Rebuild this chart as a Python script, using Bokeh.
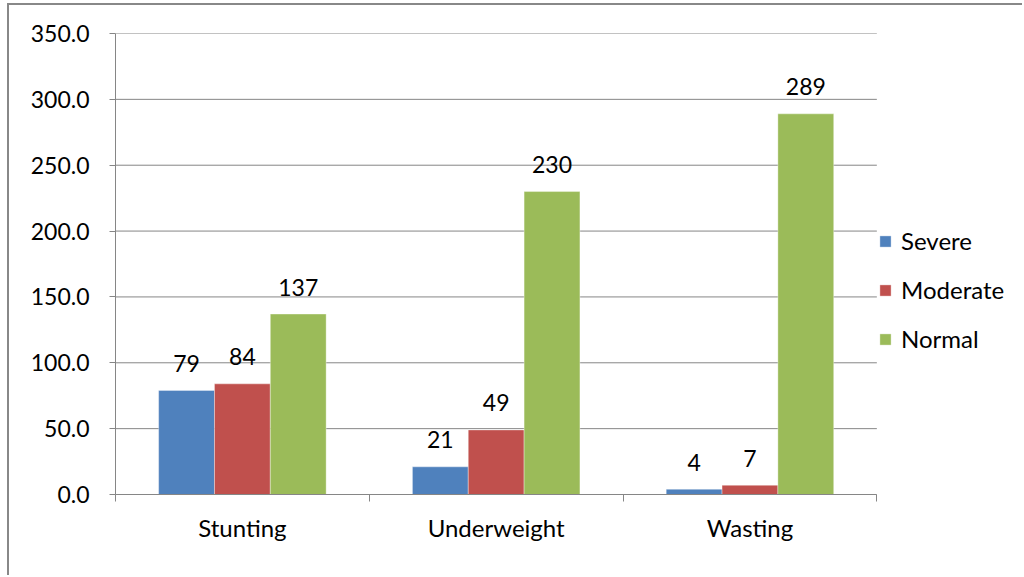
import numpy as np
from bokeh.plotting import figure
from bokeh.models import ColumnDataSource, FixedTicker, Range1d, Legend, LegendItem
from bokeh.core.properties import value
from bokeh.embed import file_html
from bokeh.resources import INLINE

categories = ["Stunting", "Underweight", "Wasting"]
series = ["Severe", "Moderate", "Normal"]
severe = [79, 21, 4]
moderate = [84, 49, 7]
normal = [137, 230, 289]
colors = ["#4F81BD", "#C0504D", "#9BBB59"]
y_ticks = [0, 50, 100, 150, 200, 250, 300, 350]

FONT = "Lato"
FS = "23px"
FS2 = "24px"
GRID = "#868686"

n_cat = len(categories)
# frame spans 903px, the category axis itself covers 758px of it (legend sits to the right)
x_end = n_cat * 903 / 758

p = figure(width=1015, height=572, output_backend="svg", toolbar_location=None,
           x_range=Range1d(0, x_end), y_range=Range1d(0, 350),
           min_border_left=106, min_border_top=28, min_border_right=2, min_border_bottom=83,
           styles={"border-left": "2px solid #888888", "border-top": "2px solid #888888",
                   "margin-left": "7px", "margin-top": "3px"})
p.outline_line_color = None
p.background_fill_color = "white"
p.border_fill_color = "white"

# horizontal gridlines limited to the category axis extent
p.segment(x0=[0] * len(y_ticks), x1=[n_cat] * len(y_ticks), y0=y_ticks, y1=y_ticks,
          line_color=GRID, line_width=1)

centers = np.arange(n_cat) + 0.5
offsets = [-0.22, 0.0, 0.22]
width = 0.22
renderers = []
for vals, off, col, name in zip([severe, moderate, normal], offsets, colors, series):
    src = ColumnDataSource(dict(x=centers + off, top=vals, lab=[str(v) for v in vals]))
    r = p.vbar(x="x", top="top", width=width, bottom=0, source=src,
               fill_color=col, line_color="white", line_alpha=0.35, line_width=1)
    renderers.append((name, r))
    p.text(x="x", y="top", text="lab", source=src, y_offset=-27,
           text_align="center", text_baseline="middle",
           text_font=value(FONT), text_font_size=FS, text_color="black")

# y axis
p.yaxis.ticker = FixedTicker(ticks=y_ticks)
p.yaxis.major_label_overrides = {t: f"{t:.1f}" for t in y_ticks}
p.yaxis.axis_line_color = GRID
p.yaxis.major_tick_line_color = GRID
p.yaxis.major_tick_out = 6
p.yaxis.major_tick_in = 0
p.yaxis.minor_tick_line_color = None
p.yaxis.major_label_text_font = FONT
p.yaxis.major_label_text_font_size = FS
p.yaxis.major_label_text_color = "black"
p.yaxis.major_label_standoff = 20

# x axis: labels at centers, ticks at category boundaries
p.xaxis.bounds = (0, n_cat)
p.xaxis.ticker = FixedTicker(ticks=list(centers), minor_ticks=list(np.arange(n_cat + 1)))
p.xaxis.major_label_overrides = {float(c): n for c, n in zip(centers, categories)}
p.xaxis.major_tick_line_color = None
p.xaxis.major_tick_out = 0
p.xaxis.minor_tick_line_color = GRID
p.xaxis.minor_tick_out = 7
p.xaxis.minor_tick_in = 0
p.xaxis.axis_line_color = GRID
p.xaxis.major_label_text_font = FONT
p.xaxis.major_label_text_font_size = FS2
p.xaxis.major_label_text_color = "black"
p.xaxis.major_label_standoff = 11

p.xgrid.grid_line_color = None
p.ygrid.grid_line_color = None

legend = Legend(items=[LegendItem(label=n, renderers=[r]) for n, r in renderers],
                location=(763, 141))
legend.background_fill_alpha = 0
legend.border_line_color = None
legend.margin = 0
legend.padding = 0
legend.glyph_width = 14
legend.glyph_height = 14
legend.label_standoff = 9
legend.spacing = 20
legend.label_height = 24
legend.label_text_font = FONT
legend.label_text_font_size = FS2
legend.label_text_color = "black"
p.add_layout(legend)

open("out.html", "w").write(file_html(p, INLINE))
